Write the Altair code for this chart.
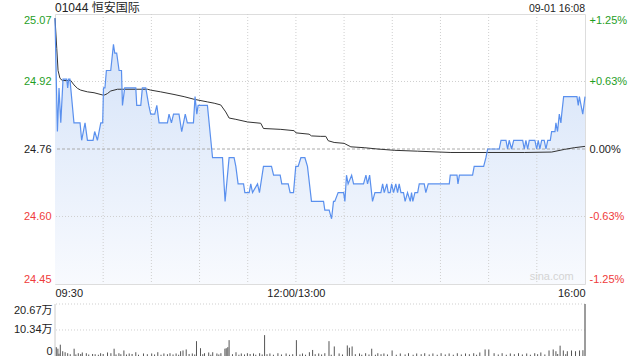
import altair as alt
import pandas as pd

FONT = "Liberation Sans, Noto Sans CJK SC, sans-serif"
GREEN = "#1f9e1f"
RED = "#ef3b3b"
DARK = "#222222"
BLUE = "#5a90ee"

# trading minutes after 09:30 (lunch break removed) and last price
price_min = [0, 1.5, 2.5, 3.6, 5.0, 7.3, 7.9, 8.5, 9.3, 11.8,
             15.6, 16.6, 18.7, 20.2, 23.7, 24.7, 26.4, 28.5, 29.7, 30.2,
             31.1, 32.0, 34.7, 36.4, 37.2, 38.4, 39.9, 41.4, 42.0, 43.4,
             50.3, 50.9, 53.4, 54.4, 56.5, 58.4, 59.6, 62.1, 63.4, 64.8,
             70.0, 71.0, 72.5, 73.8, 77.2, 78.9, 81.1, 82.4, 86.2, 87.2,
             88.3, 89.1, 94.9, 98.1, 104.3, 105.9, 108.4, 111.5, 112.6, 114.0,
             117.4, 118.2, 120.9, 121.9, 123.0, 126.1, 127.3, 129.8, 134.8, 136.1,
             140.2, 141.2, 145.2, 146.4, 148.5, 149.9, 151.4, 153.1, 155.6, 157.2,
             159.7, 167.2, 168.0, 170.7, 172.2, 173.4, 174.2, 176.3, 179.7, 180.5,
             181.5, 182.5, 184.7, 185.9, 192.1, 193.6, 194.6, 195.9, 197.7, 199.2,
             202.9, 204.0, 205.0, 206.6, 207.5, 208.7, 209.6, 210.8, 212.2, 213.3,
             214.3, 215.4, 217.0, 218.0, 219.5, 221.2, 222.0, 222.8, 224.1, 225.8,
             226.8, 229.9, 230.9, 232.4, 245.5, 246.1, 250.3, 250.9, 251.8, 260.0,
             261.0, 266.9, 268.3, 269.4, 276.6, 277.7, 280.8, 281.8, 282.8, 284.3,
             285.6, 291.2, 292.2, 293.2, 294.3, 295.3, 298.8, 299.9, 300.9, 301.9,
             303.0, 304.6, 305.7, 306.8, 308.4, 309.2, 311.3, 311.9, 312.9, 314.0,
             315.0, 315.5, 316.7, 325.0, 325.8, 326.5, 328.6, 330]
price_val = [25.06, 24.80, 24.90, 24.82, 24.92, 24.92, 24.90, 24.92, 24.92, 24.82,
             24.82, 24.78, 24.82, 24.78, 24.78, 24.80, 24.78, 24.82, 24.82, 24.90,
             24.90, 24.94, 24.94, 25.00, 24.98, 24.98, 24.94, 24.94, 24.86, 24.90,
             24.90, 24.86, 24.86, 24.90, 24.90, 24.86, 24.84, 24.84, 24.86, 24.82,
             24.82, 24.84, 24.82, 24.84, 24.84, 24.80, 24.84, 24.82, 24.82, 24.88,
             24.84, 24.86, 24.86, 24.74, 24.74, 24.64, 24.74, 24.74, 24.72, 24.68,
             24.68, 24.66, 24.66, 24.68, 24.66, 24.68, 24.66, 24.72, 24.72, 24.70,
             24.70, 24.68, 24.68, 24.66, 24.66, 24.72, 24.72, 24.74, 24.74, 24.72,
             24.64, 24.64, 24.62, 24.62, 24.60, 24.64, 24.64, 24.66, 24.66, 24.64,
             24.70, 24.68, 24.70, 24.68, 24.68, 24.70, 24.68, 24.70, 24.64, 24.66,
             24.66, 24.68, 24.66, 24.68, 24.66, 24.66, 24.68, 24.66, 24.68, 24.66,
             24.68, 24.66, 24.66, 24.64, 24.66, 24.64, 24.66, 24.64, 24.66, 24.66,
             24.68, 24.68, 24.66, 24.68, 24.68, 24.70, 24.70, 24.68, 24.70, 24.70,
             24.72, 24.72, 24.74, 24.76, 24.76, 24.78, 24.78, 24.76, 24.78, 24.76,
             24.78, 24.78, 24.76, 24.78, 24.76, 24.78, 24.78, 24.76, 24.78, 24.76,
             24.78, 24.78, 24.76, 24.78, 24.78, 24.80, 24.80, 24.82, 24.80, 24.84,
             24.82, 24.84, 24.88, 24.88, 24.86, 24.88, 24.84, 24.88]

# average price line
avg_min = [0, 1.1, 1.9, 3.1, 4.6, 9.8, 11.8, 14.0, 16.0, 20.2,
           24.3, 27.4, 29.5, 31.0, 32.6, 34.7, 38.9, 57.6, 59.6, 65.8,
           74.1, 80.4, 86.6, 94.9, 99.1, 103.2, 106.3, 108.4, 112.6, 119.9,
           128.1, 129.8, 140.6, 148.9, 150.0, 158.2, 159.7, 165.5, 168.6, 170.1,
           173.8, 180.0, 184.2, 192.5, 200.8, 211.2, 225.8, 246.5, 269.4, 292.2,
           309.2, 317.1, 323.3, 330]
avg_val = [25.06, 24.99, 24.94, 24.922, 24.917, 24.917, 24.907, 24.899, 24.895, 24.891,
           24.889, 24.886, 24.884, 24.884, 24.887, 24.893, 24.897, 24.897, 24.895, 24.891,
           24.885, 24.880, 24.874, 24.868, 24.865, 24.861, 24.845, 24.831, 24.828, 24.822,
           24.819, 24.807, 24.805, 24.802, 24.797, 24.794, 24.790, 24.789, 24.789, 24.779,
           24.775, 24.773, 24.765, 24.763, 24.760, 24.757, 24.755, 24.752, 24.752, 24.752,
           24.753, 24.759, 24.763, 24.766]

# volume (万股): larger visible bars
vol_min = [0.8, 1.8, 3.3, 4.8, 6.3, 7.9, 11.9, 14.5, 17.0, 19.5,
           23.4, 28.4, 32.7, 34.8, 36.8, 39.8, 42.9, 46.2, 50.3, 55.1,
           60.2, 64.0, 67.8, 71.6, 75.4, 78.2, 79.7, 81.7, 85.5, 88.1,
           90.6, 93.1, 95.7, 98.2, 100.8, 103.3, 105.8, 106.6, 107.6, 108.4,
           112.7, 116.0, 119.8, 123.6, 127.4, 130.5, 133.8, 138.8, 143.9, 150.3,
           154.1, 158.4, 160.4, 164.2, 168.0, 170.6, 173.9, 176.9, 182.0, 183.3,
           185.0, 189.6, 193.4, 197.2, 201.0, 204.8, 209.9, 215.0, 220.1, 225.2,
           230.2, 235.3, 240.4, 245.4, 250.5, 255.6, 260.7, 264.5, 267.8, 270.1,
           273.4, 278.4, 283.5, 288.6, 293.7, 298.7, 302.5, 307.6, 310.2, 311.9,
           314.5, 316.5, 319.0, 321.6, 324.1, 326.6, 328.7, 330]
vol_wan = [3.5, 2.9, 4.5, 1.9, 1.5, 1.1, 2.9, 1.1, 1.4, 1.1,
           0.8, 1.1, 1.4, 1.1, 2.9, 1.1, 2.2, 1.0, 1.5, 1.0,
           1.0, 1.5, 1.0, 1.1, 1.0, 1.9, 2.2, 2.6, 1.0, 5.9,
           3.1, 1.1, 1.4, 1.5, 1.0, 1.1, 2.9, 3.1, 3.5, 6.3,
           1.5, 1.0, 1.1, 1.0, 1.1, 8.3, 1.0, 1.1, 1.0, 6.3,
           1.0, 1.5, 2.4, 1.0, 1.1, 5.9, 3.8, 1.0, 4.2, 3.3,
           3.8, 1.0, 1.1, 2.9, 1.1, 1.0, 2.2, 1.0, 1.1, 1.0,
           1.1, 1.0, 1.1, 1.0, 1.1, 1.0, 1.1, 1.4, 2.6, 2.6,
           1.1, 1.1, 1.0, 1.1, 1.0, 1.1, 1.4, 2.2, 2.6, 1.9,
           4.1, 2.2, 1.9, 2.2, 1.9, 2.2, 2.3, 20.67]

# volume (万股): small bars in between
small_min = [2.5, 9.5, 13.0, 16.0, 21.0, 25.0, 27.0, 30.0, 38.0, 41.0,
             44.5, 48.0, 52.0, 57.5, 62.0, 66.0, 70.0, 73.5, 77.0, 83.5,
             87.0, 92.0, 97.0, 102.0, 110.5, 114.5, 118.0, 121.5, 125.0, 129.0,
             132.0, 136.0, 141.0, 146.0, 148.0, 152.5, 156.0, 162.0, 166.0, 172.0,
             179.0, 187.0, 191.0, 195.5, 199.5, 203.0, 207.0, 212.5, 218.0, 223.0,
             228.0, 233.0, 238.0, 243.0, 248.0, 253.0, 258.0, 262.5, 276.0, 281.0,
             286.0, 291.0, 296.0, 300.5, 305.0, 313.0, 318.0]
small_wan = [0.9, 0.7, 0.6, 0.8, 0.6, 0.7, 0.5, 0.8, 0.6, 0.7,
             0.6, 0.8, 0.5, 0.7, 0.6, 0.5, 0.7, 0.6, 0.5, 0.8,
             0.6, 0.7, 0.5, 0.6, 0.7, 0.5, 0.6, 0.8, 0.5, 0.6,
             0.7, 0.5, 0.6, 0.5, 0.7, 0.6, 0.5, 0.7, 0.6, 0.5,
             0.6, 0.7, 0.5, 0.6, 0.5, 0.7, 0.6, 0.5, 0.6, 0.5,
             0.7, 0.6, 0.5, 0.6, 0.5, 0.6, 0.7, 0.5, 0.6, 0.5,
             0.7, 0.6, 0.5, 0.7, 0.6, 0.8, 0.7]

assert len(price_min) == len(price_val)
assert len(avg_min) == len(avg_val)
assert len(vol_min) == len(vol_wan)
assert len(small_min) == len(small_wan)

prev_close = 24.76
y_ticks = [24.4505, 24.6053, 24.76, 24.9148, 25.0695]
y_labels = ["24.45", "24.60", "24.76", "24.92", "25.07"]
pct_labels = ["-1.25%", "-0.63%", "0.00%", "+0.63%", "+1.25%"]
x_ticks = [0, 150, 330]
x_labels = ["09:30", "12:00/13:00", "16:00"]
grid_minutes = [30, 60, 90, 120, 150, 180, 210, 240, 270, 300]
vol_ticks = [0, 10.34, 20.67]
vol_labels = ["0", "10.34万", "20.67万"]
title_text = "01044 恒安国际"
time_text = "09-01 16:08"


def label_expr(ticks, labels):
    expr = "'" + labels[-1] + "'"
    for i in range(len(ticks) - 2, -1, -1):
        thr = (ticks[i] + ticks[i + 1]) / 2
        expr = f"datum.value < {thr} ? '{labels[i]}' : ({expr})"
    return expr


color_cond = {
    "condition": [
        {"test": f"datum.value > {prev_close + 0.01}", "value": GREEN},
        {"test": f"datum.value < {prev_close - 0.01}", "value": RED},
    ],
    "value": DARK,
}

W = 530
xs = alt.Scale(domain=[0, 330], nice=False, zero=False)
ys = alt.Scale(domain=[y_ticks[0], y_ticks[-1]], nice=False, zero=False)

x_axis = alt.Axis(values=x_ticks, labelExpr=label_expr(x_ticks, x_labels), labelFlush=True,
                  grid=False, ticks=False, domain=False, labelPadding=3, labelFontSize=11,
                  labelColor=DARK, title=None, labelFont=FONT, labelOverlap=False)
left_axis = alt.Axis(values=y_ticks, labelExpr=label_expr(y_ticks, y_labels), labelFlush=True,
                     grid=False, ticks=False, domain=False, labelPadding=4, labelFontSize=11,
                     labelColor=color_cond, title=None, labelFont=FONT, labelOverlap=False)
right_axis = alt.Axis(orient="right", values=y_ticks, labelExpr=label_expr(y_ticks, pct_labels),
                      labelFlush=True, grid=False, ticks=False, domain=False, labelPadding=4,
                      labelFontSize=11, labelColor=color_cond, title=None, labelFont=FONT,
                      labelOverlap=False)

df_p = pd.DataFrame({"t": price_min, "p": price_val})
df_a = pd.DataFrame({"t": avg_min, "p": avg_val})

gradient = alt.Gradient(
    gradient="linear",
    stops=[alt.GradientStop(color="#f8fafe", offset=0), alt.GradientStop(color="#d2e1f8", offset=1)],
    x1=1, x2=1, y1=1, y2=0,
)

area = alt.Chart(df_p).mark_area(color=gradient, interpolate="linear").encode(
    x=alt.X("t:Q", scale=xs, axis=x_axis),
    y=alt.Y("p:Q", scale=ys, axis=left_axis),
    y2=alt.datum(y_ticks[0]),
)

vgrid = alt.Chart(pd.DataFrame({"t": grid_minutes})).mark_rule(
    color="#cfcfcf", strokeDash=[1, 2], strokeWidth=1
).encode(x=alt.X("t:Q", scale=xs, axis=None))

hgrid = alt.Chart(pd.DataFrame({"p": [y_ticks[1], y_ticks[3]]})).mark_rule(
    color="#cfcfcf", strokeDash=[1, 2], strokeWidth=1
).encode(y=alt.Y("p:Q", scale=ys, axis=None))

midline = alt.Chart(pd.DataFrame({"p": [prev_close]})).mark_rule(
    color="#aaaaaa", strokeDash=[3, 2], strokeWidth=1
).encode(y=alt.Y("p:Q", scale=ys, axis=None))

avg_line = alt.Chart(df_a).mark_line(color="#333333", strokeWidth=1).encode(
    x=alt.X("t:Q", scale=xs, axis=None),
    y=alt.Y("p:Q", scale=ys, axis=right_axis),
)

price_line = alt.Chart(df_p).mark_line(color=BLUE, strokeWidth=1.2).encode(
    x=alt.X("t:Q", scale=xs, axis=None),
    y=alt.Y("p:Q", scale=ys, axis=None),
)

hdr_df = pd.DataFrame({"txt": [title_text]})
title_mark = alt.Chart(hdr_df).mark_text(
    align="left", baseline="alphabetic", fontSize=12, color=DARK, font=FONT
).encode(x=alt.XDatum(0, scale=xs, axis=None), y=alt.value(-2), text="txt:N")

time_df = pd.DataFrame({"txt": [time_text]})
time_mark = alt.Chart(time_df).mark_text(
    align="right", baseline="alphabetic", fontSize=10.5, color=DARK, font=FONT
).encode(x=alt.XDatum(330, scale=xs, axis=None), y=alt.value(-2.5), text="txt:N")

wm_df = pd.DataFrame({"txt": ["sina.com"]})
watermark = alt.Chart(wm_df).mark_text(
    align="right", baseline="middle", fontSize=11, color="#d4d4d4", font=FONT
).encode(x=alt.XDatum(323, scale=xs, axis=None), y=alt.YDatum(24.466, scale=ys, axis=None),
         text="txt:N")

main = alt.layer(
    area, vgrid, hgrid, midline, watermark, avg_line, price_line, title_mark, time_mark
).resolve_axis(x="independent", y="independent").properties(width=W, height=270)

# volume panel
vs = alt.Scale(domain=[vol_ticks[0], vol_ticks[-1]], nice=False, zero=True)
vol_axis = alt.Axis(values=vol_ticks, labelExpr=label_expr(vol_ticks, vol_labels), labelFlush=True,
                    grid=False, ticks=False, domain=False, labelPadding=3, labelFontSize=11,
                    labelColor=DARK, title=None, labelFont=FONT, labelOverlap=False)

df_v = pd.DataFrame({"t": vol_min + small_min, "v": vol_wan + small_wan})
bars = alt.Chart(df_v).mark_rule(color="#555555", strokeWidth=1).encode(
    x=alt.X("t:Q", scale=xs, axis=None),
    y=alt.Y("v:Q", scale=vs, axis=vol_axis),
    y2=alt.datum(0),
)
vol_grid = alt.Chart(pd.DataFrame({"v": [vol_ticks[1], vol_ticks[2]]})).mark_rule(
    color="#cfcfcf", strokeDash=[1, 2], strokeWidth=1
).encode(y=alt.Y("v:Q", scale=vs, axis=None))
vol_sides = alt.Chart(pd.DataFrame({"t": [0, 330]})).mark_rule(
    color="#cccccc", strokeWidth=1
).encode(x=alt.X("t:Q", scale=xs, axis=None))

vol = alt.layer(vol_grid, vol_sides, bars).resolve_axis(
    x="independent", y="independent"
).properties(width=W, height=52, view=alt.ViewBackground(stroke="transparent"))

chart = alt.vconcat(main, vol, spacing=4).properties(
    padding={"left": 12, "top": 1, "right": 0, "bottom": 0}
).configure_view(stroke="#cccccc").configure(font=FONT)

chart.save("out.html", embed_options={"renderer": "svg", "actions": False})
